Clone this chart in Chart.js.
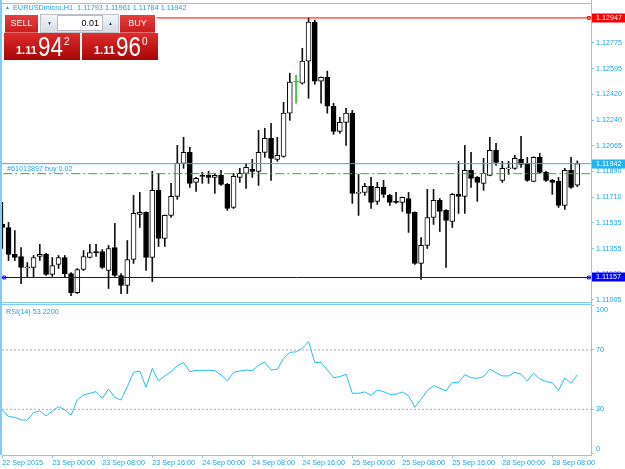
<!DOCTYPE html>
<html>
<head>
<meta charset="utf-8">
<script src="https://cdn.jsdelivr.net/npm/chart.js@4.4.1/dist/chart.umd.min.js"></script>
<style>
  html, body { margin: 0; padding: 0; background: #fff; }
  #wrap { position: relative; width: 625px; height: 469px; overflow: hidden; font-family: 'Liberation Sans', Arial, sans-serif; }
  #price-chart { position: absolute; left: 0; top: 0; }
  #rsi-chart { position: absolute; left: 0; top: 290px; }
  #title { position: absolute; left: 13px; top: 3px; font-size: 7.3px; line-height: 9px; color: #1aa3e8; white-space: pre; }
  #title-tri { position: absolute; left: 5px; top: 4px; font-size: 5px; line-height: 6px; color: #1aa3e8; }
  .btn { position: absolute; top: 15px; height: 18px; line-height: 17px; color: #fff; font-size: 9px; text-align: center;
         background: linear-gradient(#e64040, #cc1c1c); border-bottom: 1px solid #e86a6a; box-sizing: border-box; }
  #sell { left: 5px; width: 33px; }
  #buy { left: 120px; width: 35px; }
  #lot-box { position: absolute; left: 40px; top: 14px; width: 79px; height: 19px; background: #dfe3e8; border: 1px solid #c0c4ca; box-sizing: border-box; }
  .arrow { position: absolute; top: 15px; width: 15px; height: 16px; line-height: 16px; font-size: 5px; color: #36507a; text-align: center;
           background: linear-gradient(#f4f6f9, #d7dce3); }
  #down { left: 42px; }
  #up { left: 103px; }
  #lot { position: absolute; left: 57px; top: 15px; width: 46px; height: 16px; line-height: 15px; background: #fff; box-sizing: border-box;
         border: 1px solid #b8bcc2; text-align: right; padding-right: 3px; font-size: 9px; color: #000; }
  .quote { position: absolute; top: 33px; width: 76px; height: 27px; background: linear-gradient(#de2c2c, #a80606); color: #fff; }
  #bid { left: 4px; }
  #ask { left: 82px; }
  .q-small { position: absolute; left: 12px; top: 12px; font-size: 11px; line-height: 11px; font-weight: bold; }
  .q-big { position: absolute; left: 34px; top: 0px; font-size: 28px; line-height: 28px; transform: scaleX(0.8); transform-origin: left top; }
  .q-sup { position: absolute; left: 60px; top: 4px; font-size: 10px; line-height: 10px; }
</style>
</head>
<body>
<div id="wrap">
  <canvas id="price-chart" width="625" height="303"></canvas>
  <canvas id="rsi-chart" width="625" height="179"></canvas>
  <div id="title-tri">&#9650;</div>
  <div id="title">EURUSDmicro,H1  1.11793 1.11961 1.11784 1.11942</div>
  <div class="btn" id="sell">SELL</div>
  <div id="lot-box"></div>
  <div class="arrow" id="down">&#9660;</div>
  <div id="lot">0.01</div>
  <div class="arrow" id="up">&#9650;</div>
  <div class="btn" id="buy">BUY</div>
  <div class="quote" id="bid"><span class="q-small">1.11</span><span class="q-big">94</span><span class="q-sup">2</span></div>
  <div class="quote" id="ask"><span class="q-small">1.11</span><span class="q-big">96</span><span class="q-sup">0</span></div>
</div>
<script>
// Свечи EURUSDmicro H1, 22 Sep 16:00 .. 28 Sep 12:00 (по одной на час)
const opens = [1.11523, 1.11502, 1.11316, 1.11302, 1.11224, 1.11226, 1.11302, 1.11316, 1.11178, 1.11247,
    1.11295, 1.11184, 1.11053, 1.11212, 1.11295, 1.11336, 1.11336, 1.11205, 1.11364, 1.11171,
    1.11102, 1.11281, 1.11592, 1.11606, 1.11295, 1.11758, 1.11426, 1.11585, 1.11716, 1.11944,
    1.12020, 1.11813, 1.11861, 1.11861, 1.11847, 1.11861, 1.11799, 1.11640, 1.11847, 1.11875,
    1.11903, 1.11889, 1.12020, 1.12117, 1.11972, 1.11992, 1.12290, 1.12504, 1.12497, 1.12649,
    1.12918, 1.12511, 1.12538, 1.12338, 1.12165, 1.12227, 1.12290, 1.11737, 1.11744, 1.11785,
    1.11682, 1.11778, 1.11723, 1.11682, 1.11675, 1.11702, 1.11606, 1.11254, 1.11378, 1.11571,
    1.11689, 1.11620, 1.11543, 1.11730, 1.11716, 1.11896, 1.11847, 1.11806, 1.11861, 1.12034,
    1.11827, 1.11906, 1.11910, 1.11972, 1.11944, 1.11820, 1.11986, 1.11882, 1.11827, 1.11820,
    1.11654, 1.11896, 1.11793];
const highs = [1.11675, 1.11537, 1.11481, 1.11364, 1.11260, 1.11309, 1.11385, 1.11323, 1.11295, 1.11309,
    1.11309, 1.11191, 1.11219, 1.11343, 1.11385, 1.11385, 1.11350, 1.11378, 1.11530, 1.11184,
    1.11412, 1.11723, 1.11744, 1.11610, 1.11889, 1.11875, 1.11588, 1.11806, 1.12068, 1.12124,
    1.12055, 1.11847, 1.11882, 1.11889, 1.11875, 1.11896, 1.11806, 1.11875, 1.11910, 1.11944,
    1.11972, 1.12172, 1.12186, 1.12220, 1.12124, 1.12365, 1.12566, 1.12552, 1.12738, 1.12947,
    1.12932, 1.12540, 1.12580, 1.12359, 1.12262, 1.12324, 1.12310, 1.11868, 1.11806, 1.11847,
    1.11813, 1.11827, 1.11730, 1.11744, 1.11712, 1.11744, 1.11610, 1.11433, 1.11765, 1.11765,
    1.11702, 1.11626, 1.11737, 1.11958, 1.12068, 1.12020, 1.11854, 1.11979, 1.12124, 1.12082,
    1.11958, 1.11958, 1.11999, 1.12131, 1.11986, 1.11989, 1.12013, 1.11889, 1.11834, 1.11847,
    1.11910, 1.11986, 1.11961];
const lows = [1.11357, 1.11274, 1.11274, 1.11115, 1.11157, 1.11157, 1.11274, 1.11171, 1.11164, 1.11219,
    1.11157, 1.11032, 1.11046, 1.11205, 1.11292, 1.11302, 1.11219, 1.11081, 1.11164, 1.11046,
    1.11046, 1.11254, 1.11502, 1.11205, 1.11129, 1.11371, 1.11371, 1.11571, 1.11696, 1.11910,
    1.11778, 1.11751, 1.11806, 1.11806, 1.11737, 1.11792, 1.11620, 1.11633, 1.11813, 1.11771,
    1.11847, 1.11792, 1.11986, 1.11827, 1.11958, 1.11986, 1.12241, 1.12359, 1.12490, 1.12393,
    1.12490, 1.12359, 1.12290, 1.12144, 1.12151, 1.12068, 1.11668, 1.11585, 1.11723, 1.11633,
    1.11661, 1.11709, 1.11654, 1.11668, 1.11613, 1.11468, 1.11247, 1.11143, 1.11357, 1.11523,
    1.11474, 1.11226, 1.11502, 1.11599, 1.11599, 1.11778, 1.11682, 1.11758, 1.11858, 1.11930,
    1.11813, 1.11868, 1.11903, 1.11916, 1.11820, 1.11817, 1.11875, 1.11820, 1.11730, 1.11640,
    1.11626, 1.11771, 1.11784];
const closes = [1.11502, 1.11316, 1.11295, 1.11226, 1.11226, 1.11295, 1.11316, 1.11178, 1.11240, 1.11295,
    1.11184, 1.11053, 1.11212, 1.11302, 1.11329, 1.11329, 1.11226, 1.11357, 1.11171, 1.11102,
    1.11281, 1.11599, 1.11606, 1.11295, 1.11758, 1.11426, 1.11585, 1.11716, 1.11944, 1.12020,
    1.11806, 1.11841, 1.11854, 1.11847, 1.11861, 1.11799, 1.11633, 1.11854, 1.11875, 1.11916,
    1.11889, 1.12020, 1.12117, 1.11979, 1.11999, 1.12290, 1.12504, 1.12504, 1.12649, 1.12918,
    1.12511, 1.12538, 1.12338, 1.12165, 1.12227, 1.12290, 1.11737, 1.11744, 1.11785, 1.11675,
    1.11778, 1.11730, 1.11675, 1.11675, 1.11709, 1.11599, 1.11254, 1.11378, 1.11571, 1.11689,
    1.11613, 1.11550, 1.11730, 1.11716, 1.11896, 1.11841, 1.11813, 1.11875, 1.12034, 1.11951,
    1.11910, 1.11910, 1.11979, 1.11937, 1.11827, 1.11986, 1.11882, 1.11827, 1.11813, 1.11654,
    1.11896, 1.11778, 1.11942];

// RSI(14) на каждую свечу
const rsiValues = [29.6, 25.1, 24.6, 22.8, 22.8, 27.8, 28.9, 25.5, 28.9, 31.8,
    29.6, 26.0, 36.3, 39.7, 40.8, 41.9, 37.4, 43.7, 37.9, 36.3,
    45.3, 54.9, 55.8, 44.8, 57.6, 49.1, 52.5, 55.4, 59.4, 61.5,
    55.4, 56.1, 56.3, 56.3, 56.1, 53.1, 49.3, 54.9, 55.8, 56.5,
    56.1, 59.7, 61.9, 56.5, 57.0, 64.4, 68.4, 68.7, 71.1, 75.6,
    61.5, 61.7, 56.5, 51.3, 52.0, 53.6, 40.8, 40.8, 41.7, 39.4,
    43.0, 41.9, 40.1, 40.1, 41.7, 39.2, 31.4, 36.7, 42.6, 46.0,
    44.2, 42.4, 48.0, 48.2, 53.4, 51.3, 50.9, 52.0, 57.0, 54.7,
    52.5, 52.5, 54.9, 53.6, 49.1, 54.3, 50.5, 48.7, 48.0, 42.6,
    51.1, 47.5, 53.22];
const rsiLevels = [30, 70];

// Подписи оси времени (каждые 8 баров)
const timeTickBars = [0, 8, 16, 24, 32, 40, 48, 56, 64, 72, 80, 88];
const timeTickLabels = ['22 Sep 2015', '23 Sep 00:00', '23 Sep 08:00', '23 Sep 16:00', '24 Sep 00:00', '24 Sep 08:00',
    '24 Sep 16:00', '25 Sep 00:00', '25 Sep 08:00', '25 Sep 16:00', '28 Sep 00:00', '28 Sep 08:00'];

// Шкала цены
const priceTicks = [1.11005, 1.11180, 1.11355, 1.11535, 1.11710, 1.11890, 1.12065, 1.12240, 1.12420, 1.12595, 1.12775];
const rsiTicks = [0, 30, 70, 100];

// Горизонтальные уровни: high-линия, bid, ордер, low-линия
const highLevel = 1.12947;
const highLevelStartBar = 24.7;
const bidPrice = 1.11942;
const orderPrice = 1.11873;
const orderLabel = '#61013897 buy 0.02';
const lowLevel = 1.11157;

const BAR_MIN = -0.048;
const BAR_MAX = 94.192;
const TEXT_BLUE = '#1aa3e8';
const FRAME_BLUE = '#7fcdf5';
const FONT = { family: "'Liberation Sans', Arial, sans-serif", size: 7.2 };

function candleColor(i) {
    if (opens[i] === closes[i]) return '#22cc22';
    return closes[i] > opens[i] ? '#ffffff' : '#000000';
}

function levelLine(price, fromBar, color, dash) {
    return {
        type: 'line',
        data: [{ x: fromBar, y: price }, { x: BAR_MAX, y: price }],
        borderColor: color,
        borderWidth: 1,
        borderDash: dash || [],
        pointRadius: 0,
        order: 0
    };
}

function markers(price, bars, color) {
    return {
        type: 'line',
        showLine: false,
        data: bars.map(b => ({ x: b, y: price })),
        borderColor: color,
        pointStyle: 'rect',
        pointRadius: 2,
        pointBorderWidth: 1,
        pointBorderColor: color,
        pointBackgroundColor: '#ffffff',
        order: 0
    };
}

// Отступы подписей не должны сжимать область графика
function fixAxis(width, height) {
    return function (axis) {
        if (width) axis.width = width;
        if (height) axis.height = height;
        axis.paddingTop = 0;
        axis.paddingBottom = 0;
        axis.paddingLeft = 0;
        axis.paddingRight = 0;
    };
}

// Рамка, метки цен на оси и подпись ордера
const priceDecor = {
    id: 'priceDecor',
    afterDraw(chart) {
        const { ctx, chartArea: a, scales: { y } } = chart;
        ctx.save();
        ctx.fillStyle = FRAME_BLUE;
        ctx.fillRect(0, 0, 2, chart.height);
        ctx.fillRect(0, a.top, a.right, 1);
        ctx.fillRect(0, a.bottom, a.right, 1);
        ctx.fillRect(a.right, 0, 1, chart.height);

        const boxes = [[highLevel, '#ff0000'], [bidPrice, '#22b4ee'], [lowLevel, '#0000ff']];
        ctx.font = "7.2px 'Liberation Sans', Arial, sans-serif";
        ctx.textBaseline = 'middle';
        boxes.forEach(([p, color]) => {
            const yy = Math.round(y.getPixelForValue(p));
            ctx.fillStyle = color;
            ctx.fillRect(a.right + 1, yy - 4.5, 33, 9);
            ctx.fillStyle = '#ffffff';
            ctx.fillText(p.toFixed(5), a.right + 5, yy);
        });

        ctx.fillStyle = TEXT_BLUE;
        ctx.textBaseline = 'alphabetic';
        ctx.fillText(orderLabel, a.left + 5, y.getPixelForValue(orderPrice) - 2.5);
        ctx.restore();
    }
};

const rsiDecor = {
    id: 'rsiDecor',
    afterDraw(chart) {
        const { ctx, chartArea: a } = chart;
        ctx.save();
        ctx.fillStyle = FRAME_BLUE;
        ctx.fillRect(0, 0, 2, a.bottom);
        ctx.fillRect(0, a.top - 1, a.right, 1);
        ctx.fillRect(a.right, 12, 1, a.bottom - 12);
        ctx.fillStyle = TEXT_BLUE;
        ctx.font = "7.2px 'Liberation Sans', Arial, sans-serif";
        ctx.textBaseline = 'middle';
        ctx.fillText('RSI(14) ' + rsiValues[rsiValues.length - 1].toFixed(4), a.left + 4, a.top + 7);
        ctx.restore();
    }
};

function buildPriceChart() {
    const idx = opens.map((o, i) => i);
    const wicks = idx.map(i => ({ x: i, y: [lows[i], highs[i]] }));
    const bodies = idx.map(i => ({ x: i, y: [Math.min(opens[i], closes[i]), Math.max(opens[i], closes[i])] }));

    new Chart(document.getElementById('price-chart'), {
        type: 'bar',
        data: {
            datasets: [
                levelLine(highLevel, highLevelStartBar, '#ff0000'),
                markers(highLevel, [93.85], '#ff0000'),
                levelLine(bidPrice, BAR_MIN, '#22b4ee'),
                levelLine(orderPrice, BAR_MIN + 0.2, '#22bb22', [9, 3, 2, 3]),
                levelLine(lowLevel, BAR_MIN, '#0000ff'),
                markers(lowLevel, [0.3, 93.85], '#0000ff'),
                {
                    data: bodies,
                    barThickness: 5,
                    minBarLength: 1,
                    grouped: false,
                    borderSkipped: false,
                    borderWidth: 1,
                    backgroundColor: idx.map(candleColor),
                    borderColor: idx.map(i => opens[i] === closes[i] ? '#22cc22' : '#000000'),
                    order: 1
                },
                {
                    data: wicks,
                    barThickness: 1,
                    grouped: false,
                    borderWidth: 0,
                    backgroundColor: idx.map(i => opens[i] === closes[i] ? '#22cc22' : '#111111'),
                    order: 2
                }
            ]
        },
        options: {
            responsive: false,
            animation: false,
            layout: { autoPadding: false, padding: { left: 2, top: 3, right: 0, bottom: 1 } },
            plugins: { legend: { display: false }, tooltip: { enabled: false } },
            scales: {
                x: { type: 'linear', min: BAR_MIN, max: BAR_MAX, offset: false, display: false },
                y: {
                    position: 'right',
                    min: 1.10988,
                    max: 1.13050,
                    afterBuildTicks(axis) { axis.ticks = priceTicks.map(v => ({ value: v })); },
                    afterFit: fixAxis(34, 0),
                    grid: { drawOnChartArea: false, tickLength: 3, color: FRAME_BLUE },
                    border: { color: FRAME_BLUE },
                    ticks: { color: TEXT_BLUE, font: FONT, padding: 2, callback: v => v.toFixed(5) }
                }
            }
        },
        plugins: [priceDecor]
    });
}

// Подписи 100 и 0 в MT4 сдвинуты внутрь окна индикатора
function rsiTickLabel(v) {
    if (v === 100) return ['', '100'];
    if (v === 0) return ['0', ''];
    return String(v);
}

function buildRsiChart() {
    const levelSets = rsiLevels.map(l => ({
        data: [{ x: BAR_MIN, y: l }, { x: BAR_MAX, y: l }],
        borderColor: '#a8a8a8',
        borderWidth: 1,
        borderDash: [2, 2],
        pointRadius: 0
    }));

    new Chart(document.getElementById('rsi-chart'), {
        type: 'line',
        data: {
            datasets: [
                {
                    data: rsiValues.map((v, i) => ({ x: i, y: v })),
                    borderColor: '#22bdf5',
                    borderWidth: 1,
                    pointRadius: 0,
                    tension: 0
                },
                ...levelSets
            ]
        },
        options: {
            responsive: false,
            animation: false,
            layout: { autoPadding: false, padding: { left: 2, top: 15, right: 0, bottom: 0 } },
            plugins: { legend: { display: false }, tooltip: { enabled: false } },
            scales: {
                x: {
                    type: 'linear',
                    min: BAR_MIN,
                    max: BAR_MAX,
                    afterBuildTicks(axis) { axis.ticks = timeTickBars.map(v => ({ value: v })); },
                    afterFit: fixAxis(0, 14),
                    grid: { drawOnChartArea: false, tickLength: 3, color: FRAME_BLUE },
                    border: { color: FRAME_BLUE },
                    ticks: {
                        color: TEXT_BLUE, font: FONT, padding: 1, align: 'start', autoSkip: false, maxRotation: 0,
                        callback: v => timeTickLabels[timeTickBars.indexOf(v)]
                    }
                },
                y: {
                    position: 'right',
                    min: -0.8,
                    max: 100.3,
                    afterBuildTicks(axis) { axis.ticks = rsiTicks.map(v => ({ value: v })); },
                    afterFit: fixAxis(34, 0),
                    grid: { drawOnChartArea: false, tickLength: 3, color: FRAME_BLUE },
                    border: { color: FRAME_BLUE },
                    ticks: { color: TEXT_BLUE, font: FONT, padding: 2, callback: rsiTickLabel }
                }
            }
        },
        plugins: [rsiDecor]
    });
}

buildPriceChart();
buildRsiChart();
</script>
</body>
</html>
